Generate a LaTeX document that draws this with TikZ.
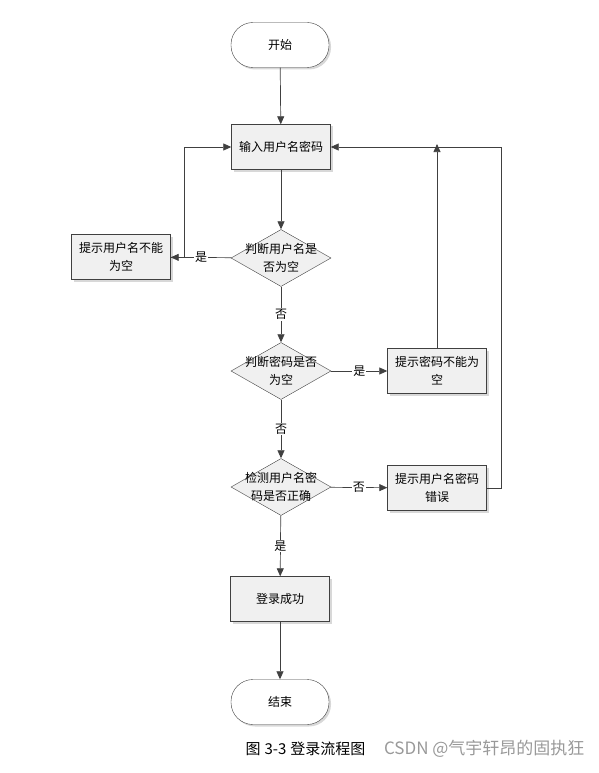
\documentclass[tikz,border=0pt]{standalone}
\usepackage{fontspec}
\setmainfont{Noto Sans CJK SC}
\usetikzlibrary{arrows.meta,shapes.geometric,shadows,positioning}
\definecolor{fcline}{HTML}{404040}
\definecolor{fcfill}{HTML}{F0F0F0}
\tikzset{fcterm/.style={rectangle, rounded corners=22pt, draw=fcline, fill=white, minimum width=98pt, minimum height=45pt, drop shadow={shadow xshift=2pt, shadow yshift=-2pt, fill=black!30}, font=\fontsize{12}{14}\selectfont}}
\tikzset{fcbox/.style={rectangle, draw=fcline, fill=fcfill, minimum width=99pt, minimum height=45pt, align=center, inner sep=2pt, drop shadow={shadow xshift=2pt, shadow yshift=-2pt, fill=black!30}, font=\fontsize{12}{18}\selectfont}}
\tikzset{fcdec/.style={diamond, draw=fcline, fill=fcfill, minimum width=100pt, minimum height=57pt, inner sep=0pt}}
\tikzset{fcflow/.style={draw=fcline, line width=0.7pt, -{Triangle[length=8pt,width=7pt]}}}
\tikzset{fclab/.style={fill=white, inner sep=1pt, font=\fontsize{12}{14}\selectfont}}

\begin{document}
\begin{tikzpicture}[x=1pt, y=-1pt]
    \useasboundingbox (0,0) rectangle (599,773);
    \node[fcterm] (start) at (280, 45) {开始};
    \node[fcbox] (input) at (281, 147) {输入用户名密码};
    \node[fcdec, label={[align=center, font=\fontsize{12}{18}\selectfont]center:判断用户名是\\否为空}] (chku) at (281, 258) {};
    \node[fcbox] (warnu) at (121, 257) {提示用户名不能\\为空};
    \node[fcdec, label={[align=center, font=\fontsize{12}{18}\selectfont]center:判断密码是否\\为空}] (chkp) at (281, 371) {};
    \node[fcbox] (warnp) at (437, 371) {提示密码不能为\\空};
    \node[fcdec, label={[align=center, font=\fontsize{12}{18}\selectfont]center:检测用户名密\\码是否正确}] (chka) at (281, 487) {};
    \node[fcbox] (warna) at (437, 488) {提示用户名密码\\错误};
    \node[fcbox] (okay) at (280, 599) {登录成功};
    \node[fcterm] (stop) at (280, 702) {结束};
    \coordinate (joinp) at (437, 147);

    \draw[fcflow] (start) -- (input);
    \draw[fcflow] (input) -- (chku);
    \draw[fcflow] (chku) -- node[fclab] {是} (warnu);
    \draw[fcflow] (warnu.east) -- ++(14,0) |- (input.west);
    \draw[fcflow] (chku) -- node[fclab] {否} (chkp);
    \draw[fcflow] (chkp) -- node[fclab] {是} (warnp);
    \draw[fcflow] (warnp.north) -- ([yshift=3pt]joinp);
    \draw[fcflow] (chkp) -- node[fclab] {否} (chka);
    \draw[fcflow] (chka) -- node[fclab] {否} (warna);
    \draw[fcflow] (warna.east) -- ++(15,0) |- (input.east);
    \draw[fcflow] (chka) -- node[fclab] {是} (okay);
    \draw[fcflow] (okay) -- (stop);

    \node[anchor=west, font=\fontsize{15}{17}\selectfont] (caption) at (242, 749) {图\hspace{4pt}3-3\hspace{4pt}登录流程图};
    \node[anchor=east, text=black!40, font=\fontsize{17}{19}\selectfont] (mark) at (588, 749) {CSDN @气宇轩昂的固执狂};
\end{tikzpicture}
\end{document}
